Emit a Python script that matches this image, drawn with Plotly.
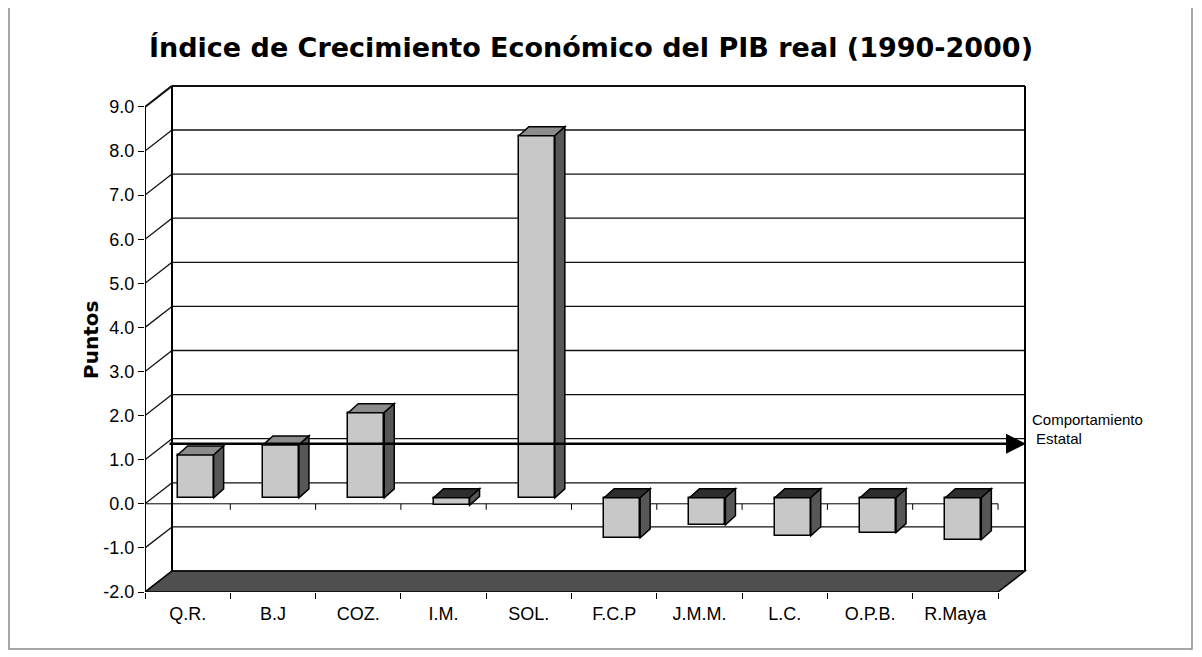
import plotly.graph_objects as go

# ---------------- data ----------------
categories = ["Q.R.", "B.J", "COZ.", "I.M.", "SOL.", "F.C.P", "J.M.M.", "L.C.", "O.P.B.", "R.Maya"]
values = [0.97, 1.20, 1.93, -0.17, 8.21, -0.91, -0.61, -0.86, -0.79, -0.95]
y_ticks = [-2, -1, 0, 1, 2, 3, 4, 5, 6, 7, 8, 9]
y_tick_labels = ["-2.0", "-1.0", "0.0", "1.0", "2.0", "3.0", "4.0", "5.0", "6.0", "7.0", "8.0", "9.0"]
state_level = 1.36
title_text = "Índice de Crecimiento Económico del PIB real (1990-2000)"
y_title = "Puntos"
state_label = ["Comportamiento", "Estatal"]

# ---------------- geometry (pixels, in reference-image coordinates) ----------------
OFF = 8  # page body margin
W, H = 1202 - OFF, 657 - OFF


def P(v):
    return v - OFF


PLOT_L, PLOT_R, PLOT_T, PLOT_B = P(145), P(1030), P(80), P(592)
PX_CAT = 85.3      # pixels per category
PX_UNIT = 44.1     # pixels per value unit
X0 = -0.5
Y_MIN = y_ticks[0]
Y_MAX = y_ticks[-1]
x_range = [X0, X0 + (PLOT_R - PLOT_L) / PX_CAT]
y_range = [Y_MIN, Y_MIN + (PLOT_B - PLOT_T) / PX_UNIT]
X_END = X0 + len(categories)


def dx(px):
    return px / PX_CAT


def dy(px):
    return px / PX_UNIT


def px_to_paper_x(px):
    return (P(px) - PLOT_L) / (PLOT_R - PLOT_L)


def px_to_paper_y(py):
    return (PLOT_B - P(py)) / (PLOT_B - PLOT_T)


WALL_DX, WALL_DY = dx(27), dy(21)
BAR_SHIFT_X, BAR_SHIFT_Y = dx(8), dy(6)
BAR_DX, BAR_DY = dx(10), dy(9)
BAR_W = dx(36)

FONT = "Liberation Sans, Arial, sans-serif"
FONT_WIDE = "DejaVu Sans, sans-serif"


def path(pts):
    return "M " + " L ".join(f"{x:.4f},{y:.4f}" for x, y in pts) + " Z"


shapes = []

# floor
shapes.append(dict(type="path", xref="x2", yref="y", layer="below",
                   path=path([(X0, Y_MIN), (X_END, Y_MIN),
                              (X_END + WALL_DX, Y_MIN + WALL_DY), (X0 + WALL_DX, Y_MIN + WALL_DY)]),
                   fillcolor="#4f4f4f", line=dict(color="black", width=1.5)))

# back wall gridlines and side-wall diagonals
for t in y_ticks:
    w = 2 if t == Y_MAX else 1.3
    shapes.append(dict(type="line", xref="x2", yref="y", layer="below",
                       x0=X0 + WALL_DX, x1=X_END + WALL_DX, y0=t + WALL_DY, y1=t + WALL_DY,
                       line=dict(color="#111111", width=w)))
    shapes.append(dict(type="line", xref="x2", yref="y", layer="below",
                       x0=X0, x1=X0 + WALL_DX, y0=t, y1=t + WALL_DY,
                       line=dict(color="#111111", width=w)))

# back wall left edge and right edge
for xe in (X0 + WALL_DX, X_END + WALL_DX):
    shapes.append(dict(type="line", xref="x2", yref="y", layer="below",
                       x0=xe, x1=xe, y0=Y_MIN + WALL_DY, y1=Y_MAX + WALL_DY,
                       line=dict(color="black", width=2)))

# front value axis
shapes.append(dict(type="line", xref="x2", yref="y", layer="below",
                   x0=X0, x1=X0, y0=Y_MIN, y1=Y_MAX, line=dict(color="black", width=2)))

# category axis line at zero level with boundary ticks
shapes.append(dict(type="line", xref="x2", yref="y", layer="below",
                   x0=X0, x1=X_END, y0=0, y1=0, line=dict(color="black", width=1)))
for k in range(len(categories) + 1):
    b = X0 + k
    shapes.append(dict(type="line", xref="x2", yref="y", layer="below",
                       x0=b, x1=b, y0=0, y1=-dy(6), line=dict(color="black", width=1)))

# 3D faces of bars (top and side)
for i, v in enumerate(values):
    xl = i + BAR_SHIFT_X - BAR_W / 2
    xr = xl + BAR_W
    top = max(v, 0) + BAR_SHIFT_Y
    bot = min(v, 0) + BAR_SHIFT_Y
    top_color = "#8c8c8c" if v > 0 else "#2e2e2e"
    shapes.append(dict(type="path", xref="x2", yref="y", layer="above",
                       path=path([(xl, top), (xr, top), (xr + BAR_DX, top + BAR_DY), (xl + BAR_DX, top + BAR_DY)]),
                       fillcolor=top_color, line=dict(color="black", width=1.5)))
    shapes.append(dict(type="path", xref="x2", yref="y", layer="above",
                       path=path([(xr, bot), (xr, top), (xr + BAR_DX, top + BAR_DY), (xr + BAR_DX, bot + BAR_DY)]),
                       fillcolor="#575757", line=dict(color="black", width=1.5)))

# outer frame
shapes.append(dict(type="rect", xref="paper", yref="paper", layer="below",
                   x0=px_to_paper_x(9), x1=px_to_paper_x(1192),
                   y0=px_to_paper_y(649), y1=px_to_paper_y(7),
                   line=dict(color="#8a8a8a", width=1.5), fillcolor="rgba(0,0,0,0)"))

fig = go.Figure()
fig.add_trace(go.Bar(
    x=categories, y=values, base=BAR_SHIFT_Y,
    width=BAR_W, offset=BAR_SHIFT_X - BAR_W / 2,
    marker=dict(color="#c8c8c8", line=dict(color="black", width=1.5)),
    showlegend=False, hoverinfo="x+y",
))
fig.add_trace(go.Scatter(x=[], y=[], xaxis="x2", yaxis="y", showlegend=False))

annotations = [
    dict(x=X0 + dx(1026 - 145), y=state_level, ax=X0 + dx(168 - 145), ay=state_level,
         xref="x2", yref="y", axref="x2", ayref="y", text="", showarrow=True,
         arrowhead=2, arrowsize=1.6, arrowwidth=2.5, arrowcolor="black"),
    dict(x=px_to_paper_x(1030), y=px_to_paper_y(419), xref="paper", yref="paper",
         xanchor="left", yanchor="middle", showarrow=False, text=state_label[0],
         font=dict(family=FONT, size=15, color="black")),
    dict(x=px_to_paper_x(1034), y=px_to_paper_y(438), xref="paper", yref="paper",
         xanchor="left", yanchor="middle", showarrow=False, text=state_label[1],
         font=dict(family=FONT, size=15, color="black")),
    dict(x=px_to_paper_x(91), y=px_to_paper_y(340), xref="paper", yref="paper",
         xanchor="center", yanchor="middle", showarrow=False, textangle=-90,
         text=f"<b>{y_title}</b>", font=dict(family=FONT_WIDE, size=20, color="black")),
]

fig.update_layout(
    width=W, height=H,
    margin=dict(l=PLOT_L, r=W - PLOT_R, t=PLOT_T, b=H - PLOT_B, pad=0),
    paper_bgcolor="white", plot_bgcolor="white",
    title=dict(text=f"<b>{title_text}</b>", x=P(591) / W, y=1 - P(48) / H,
               xref="container", yref="container", xanchor="center", yanchor="middle",
               font=dict(family=FONT_WIDE, size=27, color="black")),
    xaxis=dict(type="category", categoryorder="array", categoryarray=categories,
               range=x_range, tickson="boundaries", ticks="outside", ticklen=6,
               tickcolor="black", tickwidth=1.2, showgrid=False, showline=False, zeroline=False,
               tickfont=dict(family=FONT, size=18, color="black"), ticklabelstandoff=9),
    xaxis2=dict(overlaying="x", range=x_range, visible=False, showgrid=False, zeroline=False),
    yaxis=dict(range=y_range, tickvals=y_ticks, ticktext=y_tick_labels, ticks="outside",
               ticklen=6, tickcolor="black", tickwidth=1.2, showgrid=False, showline=False,
               zeroline=False, tickfont=dict(family=FONT, size=18, color="black")),
    shapes=shapes,
    annotations=annotations,
    bargap=0,
)

fig.write_html("out.html")
